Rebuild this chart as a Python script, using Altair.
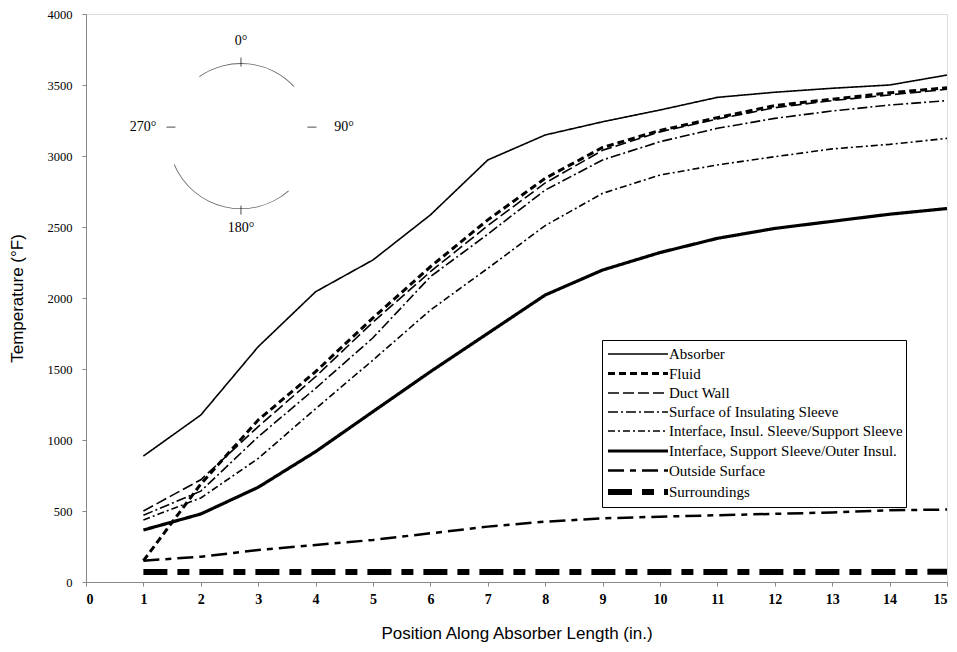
import math
import altair as alt
import pandas as pd

# ---------------- data ----------------
positions = [1, 2, 3, 4, 5, 6, 7, 8, 9, 10, 11, 12, 13, 14, 15]
series_names = [
    "Absorber",
    "Fluid",
    "Duct Wall",
    "Surface of Insulating Sleeve",
    "Interface, Insul. Sleeve/Support Sleeve",
    "Interface, Support Sleeve/Outer Insul.",
    "Outside Surface",
    "Surroundings",
]
absorber = [887, 1176, 1657, 2044, 2268, 2585, 2972, 3148, 3241, 3324, 3413, 3449, 3477, 3500, 3570]
fluid = [150, 690, 1141, 1481, 1860, 2220, 2550, 2843, 3060, 3180, 3270, 3355, 3400, 3445, 3480]
duct_wall = [500, 720, 1094, 1446, 1830, 2185, 2510, 2810, 3040, 3170, 3260, 3340, 3390, 3430, 3470]
insul_surface = [470, 640, 1023, 1364, 1720, 2150, 2450, 2760, 2972, 3101, 3195, 3265, 3317, 3359, 3390]
insul_support = [437, 592, 870, 1220, 1563, 1915, 2209, 2510, 2737, 2866, 2937, 2995, 3050, 3082, 3124]
support_outer = [366, 479, 667, 918, 1200, 1481, 1751, 2021, 2197, 2320, 2420, 2490, 2540, 2590, 2630]
outside_surface = [150, 178, 225, 261, 296, 343, 390, 425, 448, 460, 470, 480, 490, 505, 510]
surroundings = [70, 70, 70, 70, 70, 70, 70, 70, 70, 70, 70, 70, 70, 70, 72]
all_series = [absorber, fluid, duct_wall, insul_surface, insul_support,
              support_outer, outside_surface, surroundings]

x_ticks = [0, 1, 2, 3, 4, 5, 6, 7, 8, 9, 10, 11, 12, 13, 14, 15]
y_ticks = [0, 500, 1000, 1500, 2000, 2500, 3000, 3500, 4000]

# inset (circle orientation diagram)
inset_center_x = [2.7]
inset_center_y = [3140]
inset_arc_start_deg = [-35, 139]
inset_arc_end_deg = [47, 247]
inset_labels = ["0°", "90°", "180°", "270°"]

# ---------------- styles ----------------
dash_styles = [[1, 0], [7, 4], [11, 4], [10, 3, 2, 3], [7, 3, 2, 3], [1, 0], [16, 6, 6, 6], [24, 10, 12, 10]]
stroke_widths = [1.6, 3.0, 1.6, 1.6, 1.6, 3.2, 2.5, 6.0]
label_dx = [0, 103, 0, -98]
label_dy = [-95, -9, 92, -9]
tick_dx = [0, 71, 0, -70]
tick_dy = [-74, -9, 74, -9]
tick_angle = [90, 0, 90, 0]

rows = []
for name, vals in zip(series_names, all_series):
    for xv, v in zip(positions, vals):
        rows.append({"series": name, "position": xv, "temp": v})
df = pd.DataFrame(rows)

SERIF = "Liberation Serif, Times New Roman, serif"
SANS = "Liberation Sans, Arial, sans-serif"

x_scale = alt.Scale(domain=[0, 15], nice=False, zero=False)
y_scale = alt.Scale(domain=[0, 4000], nice=False)

x_axis = alt.Axis(values=x_ticks, title="Position Along Absorber Length (in.)",
                  labelFont=SERIF, labelFontSize=14, labelFontWeight="bold",
                  labelPadding=6, tickSize=4, titleFont=SANS, titleFontSize=17,
                  titleFontWeight="normal", titlePadding=19, grid=False, format="d")
y_axis = alt.Axis(values=y_ticks, title="Temperature (°F)",
                  labelFont=SERIF, labelFontSize=12.5, labelPadding=10, tickSize=4,
                  titleFont=SANS, titleFontSize=17, titleFontWeight="normal",
                  titlePadding=21, grid=False, format="d")

legend = alt.Legend(orient="none", legendX=516, legendY=326, title=None,
                    symbolType="M-3,0H3", symbolSize=400, symbolStrokeColor="black",
                    symbolOffset=20, labelOffset=18, labelLimit=0,
                    labelFont=SERIF, labelFontSize=15, labelColor="black",
                    strokeColor="black", fillColor="white", padding=3, rowPadding=-0.6)

lines = alt.Chart(df).mark_line(stroke="black").encode(
    x=alt.X("position:Q", scale=x_scale, axis=x_axis),
    y=alt.Y("temp:Q", scale=y_scale, axis=y_axis),
    strokeDash=alt.StrokeDash("series:N", scale=alt.Scale(domain=series_names, range=dash_styles), legend=legend),
    strokeWidth=alt.StrokeWidth("series:N", scale=alt.Scale(type="ordinal", domain=series_names, range=stroke_widths), legend=legend),
)

arc_df = pd.DataFrame({
    "cx": inset_center_x * 2,
    "cy": inset_center_y * 2,
    "t0": [math.radians(a) for a in inset_arc_start_deg],
    "t1": [math.radians(a) for a in inset_arc_end_deg],
})
arcs = alt.Chart(arc_df).mark_arc(radius=73, radius2=72.2, fill="#666").encode(
    x=alt.X("cx:Q", scale=x_scale),
    y=alt.Y("cy:Q", scale=y_scale),
    theta=alt.Theta("t0:Q", scale=None),
    theta2="t1:Q",
)

layers = [lines, arcs]
center_df = pd.DataFrame({"cx": inset_center_x, "cy": inset_center_y})
for dx, dy, ang in zip(tick_dx, tick_dy, tick_angle):
    layers.append(
        alt.Chart(center_df).mark_point(shape="stroke", size=81, stroke="black", strokeWidth=1,
                                        xOffset=dx, yOffset=dy, angle=ang).encode(
            x=alt.X("cx:Q", scale=x_scale),
            y=alt.Y("cy:Q", scale=y_scale),
        )
    )
for lab, dx, dy in zip(inset_labels, label_dx, label_dy):
    ldf = pd.DataFrame({"cx": inset_center_x, "cy": inset_center_y, "label": [lab]})
    layers.append(
        alt.Chart(ldf).mark_text(font=SERIF, fontSize=14, color="black", dx=dx, dy=dy).encode(
            x=alt.X("cx:Q", scale=x_scale),
            y=alt.Y("cy:Q", scale=y_scale),
            text="label:N",
        )
    )

chart = alt.layer(*layers).properties(
    width=861, height=568,
    autosize=alt.AutoSizeParams(type="none"),
    padding={"left": 78, "top": 6, "right": 2, "bottom": 62},
).configure_view(
    stroke="black", strokeDash=[1, 2], strokeWidth=1.2,
).configure_axis(
    domainColor="black", tickColor="black", labelColor="black", titleColor="black",
    domainWidth=1.3,
).configure(background="white")

chart.save("out.html", embed_options={"renderer": "svg", "actions": False})
